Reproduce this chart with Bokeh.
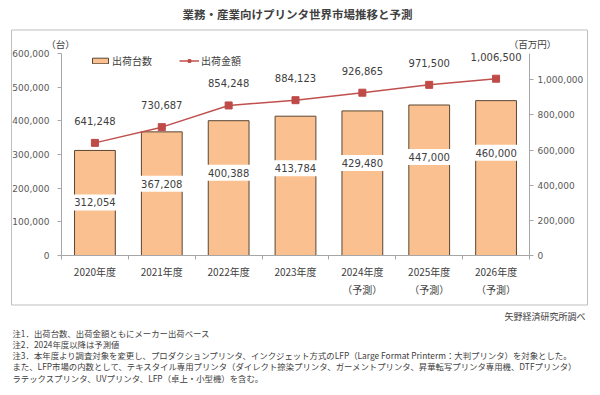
from bokeh.plotting import figure
from bokeh.models import (Range1d, LinearAxis, FixedTicker, NumeralTickFormatter,
                          Legend, LegendItem, Label, ColumnDataSource)
from bokeh.core.properties import value
from bokeh.embed import file_html
from bokeh.resources import INLINE

# ---------------- data ----------------
categories = ["2020年度", "2021年度", "2022年度", "2023年度",
              "2024年度\n（予測）", "2025年度\n（予測）", "2026年度\n（予測）"]
units = [312054, 367208, 400388, 413784, 429480, 447000, 460000]          # 出荷台数 (台)
amount = [641248, 730687, 854248, 884123, 926865, 971500, 1006500]       # 出荷金額 (百万円)
left_ticks = [0, 100000, 200000, 300000, 400000, 500000, 600000]
right_ticks = [0, 200000, 400000, 600000, 800000, 1000000]
left_max = 600000
right_max = 1150000
series_names = ["出荷台数", "出荷金額"]
title_text = "業務・産業向けプリンタ世界市場推移と予測"
unit_left = "（台）"
unit_right = "（百万円）"
source_text = "矢野経済研究所調べ"
notes = [
    "注1．出荷台数、出荷金額ともにメーカー出荷ベース",
    "注2．2024年度以降は予測値",
    "注3．本年度より調査対象を変更し、プロダクションプリンタ、インクジェット方式のLFP（Large Format Printerm：大判プリンタ）を対象とした。",
    "また、LFP市場の内数として、テキスタイル専用プリンタ（ダイレクト捺染プリンタ、ガーメントプリンタ、昇華転写プリンタ専用機、DTFプリンタ）",
    "ラテックスプリンタ、UVプリンタ、LFP（卓上・小型機）を含む。",
]

JP = "Noto Sans CJK JP"
NUM = "DejaVu Sans"
TXT = "#404040"
AXC = "#A6A6A6"

# ---------------- layout (pixels on the 600x395 canvas) ----------------
W, H = 600, 395
PL, PR, PT, PB = 61, 529, 53, 255      # plot area edges (from top-left)

n = len(categories)
xs = [i + 0.5 for i in range(n)]
bounds = [i for i in range(n + 1)]

pxu = (PR - PL) / n                     # pixels per category
x_rng = Range1d(-PL / pxu, n + (W - PR) / pxu)
ph = PB - PT
y_rng = Range1d(-(H - PB) / ph * left_max, PB / ph * left_max)
yr_rng = Range1d(-(H - PB) / ph * right_max, PB / ph * right_max)


def px2x(px):
    return x_rng.start + px / pxu


def py2y(py):
    return (PB - py) / ph * left_max


src = ColumnDataSource(dict(
    x=xs, units=units, amount=amount,
    ulab=[f"{v:,}" for v in units], alab=[f"{v:,}" for v in amount],
))

p = figure(width=W, height=H, output_backend="svg", toolbar_location=None,
           x_range=x_rng, y_range=y_rng)
p.min_border = 0
p.min_border_left = p.min_border_right = p.min_border_top = p.min_border_bottom = 0
p.outline_line_color = None
p.xgrid.grid_line_color = None
p.ygrid.grid_line_color = None
p.extra_y_ranges = {"right": yr_rng}

# outer chart box (decoration)
p.quad(left=[px2x(11)], right=[px2x(587)], top=[py2y(29.5)], bottom=[py2y(304.5)],
       fill_alpha=0, line_color="#BFBFBF", line_width=1)

# bottom axis
xa = p.xaxis[0]
xa.fixed_location = 0
xa.bounds = (0, n)
xa.ticker = FixedTicker(ticks=xs, minor_ticks=bounds)
xa.major_label_overrides = {x: c for x, c in zip(xs, categories)}
xa.major_tick_line_color = None
xa.major_tick_out = 0
xa.major_tick_in = 0
xa.minor_tick_out = 4
xa.minor_tick_in = 0
xa.minor_tick_line_color = AXC
xa.axis_line_color = AXC
xa.major_label_standoff = 4
xa.major_label_text_font = JP
xa.major_label_text_font_size = "10px"
xa.major_label_text_color = TXT

# left axis
ya = p.yaxis[0]
ya.fixed_location = 0
ya.bounds = (0, left_max)
ya.ticker = FixedTicker(ticks=left_ticks)
ya.formatter = NumeralTickFormatter(format="0,0")
ya.major_tick_out = 4
ya.major_tick_in = 0
ya.minor_tick_line_color = None
ya.major_tick_line_color = AXC
ya.axis_line_color = AXC
ya.major_label_standoff = 8
ya.major_label_text_font = NUM
ya.major_label_text_font_size = "9px"
ya.major_label_text_color = "#595959"

# right axis
ra = LinearAxis(y_range_name="right", ticker=FixedTicker(ticks=right_ticks),
                formatter=NumeralTickFormatter(format="0,0"))
ra.fixed_location = n
ra.bounds = (0, right_max)
ra.major_tick_out = 4
ra.major_tick_in = 0
ra.minor_tick_line_color = None
ra.major_tick_line_color = AXC
ra.axis_line_color = AXC
ra.major_label_standoff = 4
ra.major_label_text_font = NUM
ra.major_label_text_font_size = "9px"
ra.major_label_text_color = "#595959"
p.add_layout(ra, "right")

# bars
bars = p.vbar(x="x", top="units", width=0.61, source=src,
              fill_color="#FAC090", line_color="#5A4632", line_width=1)
# bar value labels with white background
p.text(x="x", y="units", text="ulab", source=src, y_offset=52,
       text_align="center", text_baseline="middle",
       text_font=value(NUM), text_font_size="10px", text_color=TXT,
       background_fill_color="white", padding=4)

# line
line_r = p.line(x="x", y="amount", source=src, y_range_name="right",
                line_color="#C0504D", line_width=1.5)
pts = p.scatter(x="x", y="amount", source=src, y_range_name="right",
                marker="square", size=7, fill_color="#BE4B48", line_color="#BE4B48")
p.text(x="x", y="amount", text="alab", source=src, y_range_name="right", y_offset=-22,
       text_align="center", text_baseline="middle",
       text_font=value(NUM), text_font_size="10px", text_color=TXT)

# legend
legend = Legend(items=[LegendItem(label=series_names[0], renderers=[bars]),
                       LegendItem(label=series_names[1], renderers=[line_r, pts])],
                orientation="horizontal", location=(90, H - 68),
                glyph_width=20, glyph_height=7, label_standoff=2, spacing=27,
                padding=0, margin=0, label_height=12,
                border_line_color=None, background_fill_alpha=0,
                label_text_font=JP, label_text_font_size="10px", label_text_color=TXT)
p.add_layout(legend)


def lab(x, y, t, size, align="left", font=JP, weight="normal", color=TXT):
    p.add_layout(Label(x=x, y=H - y, x_units="screen", y_units="screen", text=t,
                       text_font=font, text_font_size=size, text_align=align,
                       text_baseline="middle", text_font_style=weight, text_color=color))


lab(297, 13, title_text, "11.5px", align="center", weight="bold")
lab(60, 43, unit_left, "9.5px", align="center")
lab(532, 43, unit_right, "9.5px", align="center")
lab(585, 316, source_text, "9px", align="right")
for i, t in enumerate(notes):
    lab(12, 332 + i * 11.3, t, "8.4px")

open("out.html", "w").write(file_html(p, INLINE))
